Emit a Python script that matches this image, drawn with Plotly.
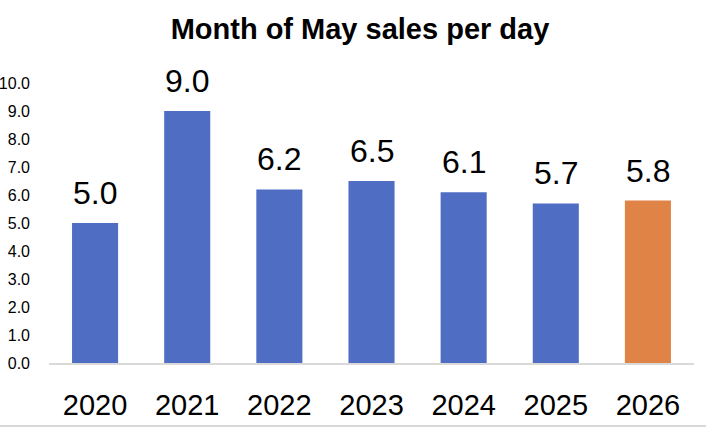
import plotly.graph_objects as go

# ventes par jour, mois de mai
annees = ["2020", "2021", "2022", "2023", "2024", "2025", "2026"]
ventes = [5.0, 9.0, 6.2, 6.5, 6.1, 5.7, 5.8]
couleurs = ["#4f6dc2"] * 6 + ["#e08347"]

y_ticks = [0, 1, 2, 3, 4, 5, 6, 7, 8, 9, 10]

fig = go.Figure(go.Bar(
    x=annees,
    y=ventes,
    marker=dict(color=couleurs, line=dict(width=0)),
    hoverinfo="x+y",
))

# étiquettes au-dessus des barres (x = indice de la catégorie)
for i, v in enumerate(ventes):
    fig.add_annotation(
        x=i, y=v, text=f"{v:.1f}",
        showarrow=False, yanchor="bottom", yshift=10,
        font=dict(size=32, color="black", family="Liberation Sans, Arial"),
    )

# ligne grise du bas de la capture
fig.add_shape(type="line", xref="paper", yref="paper",
              x0=-0.1, x1=1.1, y0=-(426 - 363) / 280, y1=-(426 - 363) / 280,
              line=dict(color="#d9d9d9", width=2))

fig.update_layout(
    width=706, height=432,
    margin=dict(l=49, r=12, t=83, b=69),
    paper_bgcolor="white",
    plot_bgcolor="white",
    bargap=0.5,
    showlegend=False,
    title=dict(
        text="<b>Month of May sales per day</b>",
        x=360 / 706, xanchor="center", xref="container",
        y=1 - 29 / 432, yanchor="middle", yref="container",
        font=dict(size=29, color="black", family="Liberation Sans, Arial"),
    ),
    font=dict(family="Liberation Sans, Arial", color="black"),
)

fig.update_xaxes(
    type="category", range=[-0.5, len(annees) - 0.5],
    showline=True, linecolor="#d9d9d9", linewidth=1.5,
    ticks="", showgrid=False, automargin=False,
    tickfont=dict(size=29, color="black"),
    ticklabelstandoff=15,
)
fig.update_yaxes(
    range=[0, 10], tickvals=y_ticks, tickformat=".1f",
    showgrid=False, zeroline=False, showline=False, ticks="",
    automargin=False,
    tickfont=dict(size=16, color="black"),
    ticklabelstandoff=18,
)

# pas de marge autour du graphique dans la page, pas de barre d'outils
fig.write_html("out.html", config={"displayModeBar": False},
               post_script="document.body.style.margin='0';")
